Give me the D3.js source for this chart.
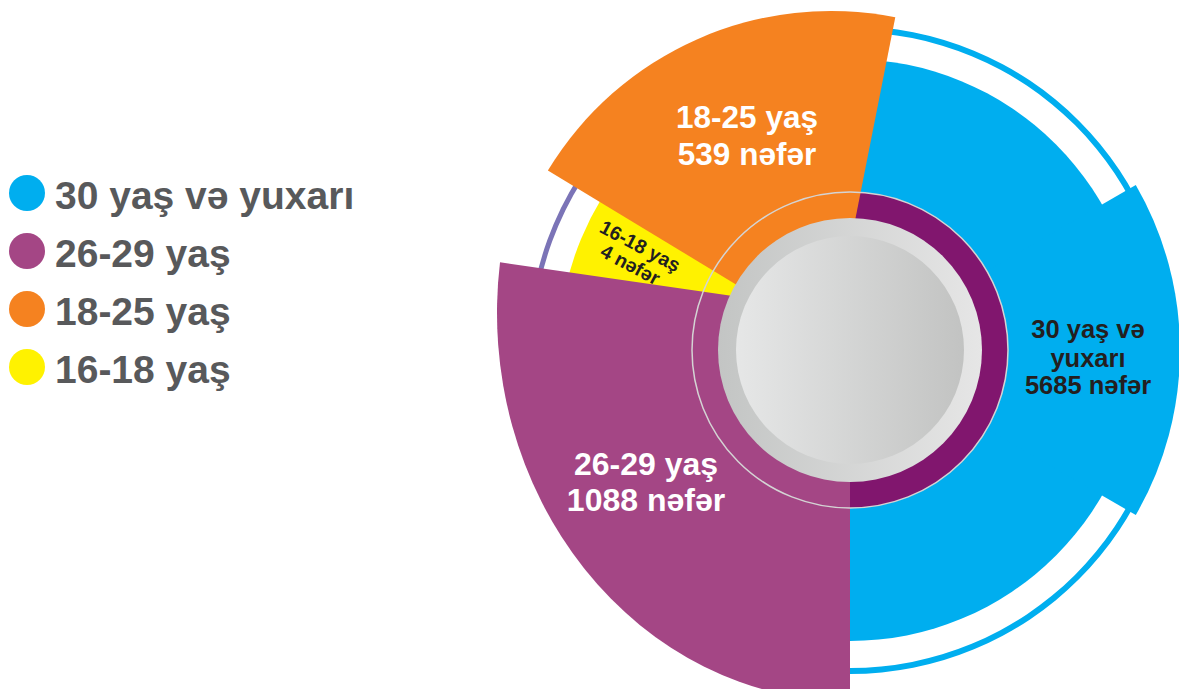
<!DOCTYPE html>
<html>
<head>
<meta charset="utf-8">
<script src="https://cdn.jsdelivr.net/npm/d3@7"></script>
<style>
  body { margin: 0; background: #fff; }
  svg { display: block; }
  text { font-family: "Liberation Sans", Arial, sans-serif; font-weight: bold; }
</style>
</head>
<body>
<script>
var groups = ['30 yaş və yuxarı', '26-29 yaş', '18-25 yaş', '16-18 yaş'];
var people = [5685, 1088, 539, 4];
var labelHead = [['30 yaş və', 'yuxarı'], ['26-29 yaş'], ['18-25 yaş'], ['16-18 yaş']];
var colors = ['#00aeef', '#a44685', '#f58220', '#fff200'];

var w = 1179,
    h = 689;
var cx = 850,
    cy = 350;

var color = d3.scaleOrdinal().domain(groups).range(colors);
var deg = d3.scaleLinear().domain([0, 360]).range([0, Math.PI * 2]);

// the wedges in the original are hand drawn, not proportional to the counts
var layout = [
  {start: 0,     end: 180,   r: 291, x: 850, y: 350, sy: 1,
   lx: 1088, ly: [338, 367, 394], size: 25.5, fill: '#231f20', rot: 0},
  {start: 180,   end: 277.5, r: 353, x: 850, y: 313, sy: 1.1,
   lx: 646, ly: [475, 511], size: 32, fill: '#fff', rot: 0},
  {start: -58.8, end: 11.2,  r: 331, x: 831, y: 342, sy: 1,
   lx: 747, ly: [128, 165], size: 31.5, fill: '#fff', rot: 0},
  {start: -85,   end: -50,   r: 291, x: 850, y: 350, sy: 1,
   lx: 637, ly: [252, 273], size: 19.5, fill: '#231f20', rot: 28}
];

var svg = d3.select('body')
  .append('svg')
  .attr('width', w)
  .attr('height', h);

var defs = svg.append('defs');
function grad(id, a, b) {
    var g = defs.append('linearGradient').attr('id', id)
      .attr('x1', 0).attr('x2', 1).attr('y1', 0).attr('y2', 0);
    g.append('stop').attr('offset', 0).attr('stop-color', a);
    g.append('stop').attr('offset', 1).attr('stop-color', b);
}
grad('ringGrad', '#c3c5c4', '#e6e6e6');
grad('diskGrad', '#e6e7e7', '#c2c3c2');

var arc = d3.arc();

// thin outer rings
var thin = svg.append('g').attr('transform', 'translate(' + cx + ',' + cy + ')');
thin.append('path')
  .attr('fill', color(groups[0]))
  .attr('d', arc({innerRadius: 318, outerRadius: 324, startAngle: deg(0), endAngle: deg(180)}));
thin.append('path')
  .attr('fill', '#7b74b7')
  .attr('d', arc({innerRadius: 317, outerRadius: 322, startAngle: deg(-95), endAngle: deg(-45)}));

// blue wedge + its raised part
var blue = svg.append('g').attr('transform', 'translate(' + cx + ',' + cy + ')');
blue.append('path')
  .attr('fill', color(groups[0]))
  .attr('d', arc({innerRadius: 0, outerRadius: layout[0].r, startAngle: deg(0), endAngle: deg(180)}));
blue.append('path')
  .attr('fill', color(groups[0]))
  .attr('d', arc({innerRadius: 0, outerRadius: 330, startAngle: deg(60), endAngle: deg(120)}));
blue.append('path')
  .attr('fill', '#81166e')
  .attr('d', arc({innerRadius: 130, outerRadius: 158, startAngle: deg(0), endAngle: deg(180)}));

// other wedges, drawn yellow first so orange and purple sit over it
[3, 2, 1].forEach(function(i) {
    var l = layout[i];
    svg.append('path')
      .attr('transform', 'translate(' + l.x + ',' + l.y + ') scale(1,' + l.sy + ')')
      .attr('fill', color(groups[i]))
      .attr('d', arc({innerRadius: 0, outerRadius: l.r, startAngle: deg(l.start), endAngle: deg(l.end)}));
});

// centre
var c = svg.append('g').attr('transform', 'translate(' + cx + ',' + cy + ')');
c.append('circle').attr('r', 158)
  .attr('fill', 'none')
  .attr('stroke', '#d4d4d4')
  .attr('stroke-width', 1.5);
c.append('circle').attr('r', 132).attr('fill', 'url(#ringGrad)');
c.append('circle').attr('r', 114).attr('fill', 'url(#diskGrad)');

// wedge labels
layout.forEach(function(l, i) {
    var lines = labelHead[i].concat([people[i] + ' nəfər']);
    var t = svg.append('text')
      .attr('text-anchor', 'middle')
      .attr('font-size', l.size)
      .attr('fill', l.fill);
    if (l.rot) {
        t.attr('transform', 'translate(' + l.lx + ',' + l.ly[0] + ') rotate(' + l.rot + ')');
        lines.forEach(function(s, j) {
            t.append('tspan').attr('x', 0).attr('y', j * (l.ly[1] - l.ly[0])).text(s);
        });
    } else {
        lines.forEach(function(s, j) {
            t.append('tspan').attr('x', l.lx).attr('y', l.ly[j]).text(s);
        });
    }
});

// legend
var legend = svg.append('g')
  .selectAll('g')
  .data(groups)
  .enter()
  .append('g')
  .attr('transform', function(d, i) { return 'translate(27,' + (193 + i * 58) + ')'; });
legend.append('circle')
  .attr('r', 18)
  .attr('fill', function(d) { return color(d); });
legend.append('text')
  .attr('x', 28)
  .attr('y', 16)
  .attr('font-size', 39)
  .attr('fill', '#58595b')
  .text(function(d) { return d; });
</script>
</body>
</html>
